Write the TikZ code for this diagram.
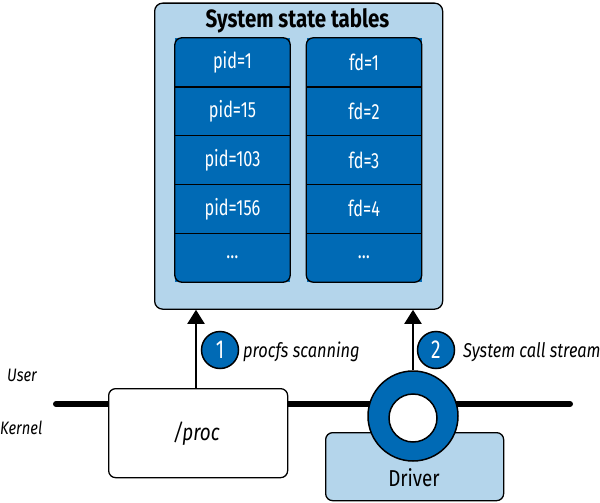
\documentclass[tikz,border=0pt]{standalone}
\usepackage{fontspec}
\setmainfont{Fira Sans}[FakeStretch=0.82]
\newfontfamily\cellfont{Fira Sans}[FakeStretch=0.74]
\usetikzlibrary{arrows.meta}
\definecolor{dblue}{RGB}{0,106,181}
\definecolor{lblue}{RGB}{180,213,235}
\tikzset{
  outerbox/.style={draw=black, line width=1.3pt, fill=lblue, rounded corners=8pt},
  cell/.style={fill=dblue, minimum width=115pt, minimum height=48.8pt, inner sep=0pt, text=white, font=\cellfont\fontsize{22}{24}\selectfont},
  colframe/.style={draw=black, line width=1.3pt, rounded corners=7pt},
  sep/.style={draw=black, line width=1.3pt},
  arr/.style={draw=black, line width=2pt, -{Triangle[width=17pt,length=14pt]}},
  badge/.style={circle, draw=black, line width=1.5pt, fill=dblue, minimum size=37pt, inner sep=0pt, text=white, font=\cellfont\fontsize{26}{27}\selectfont},
  lbl/.style={font=\fontsize{20}{22}\selectfont\itshape, anchor=west, inner sep=0pt},
  side/.style={font=\fontsize{18}{20}\selectfont\itshape, anchor=west, inner sep=0pt},
  kbox/.style={draw=black, line width=1.3pt, rounded corners=7pt, inner sep=0pt},
}
\begin{document}
\begin{tikzpicture}[x=1pt,y=-1pt]
\useasboundingbox (0,0) rectangle (600,503);
% outer box
\node[outerbox, minimum width=288pt, minimum height=306pt, anchor=north west] (tables) at (154,2.5) {};
\node[font=\fontsize{25}{27}\selectfont\bfseries] (title) at (297.5,21) {System state tables};
% columns
\foreach \t [count=\i] in {pid=1,pid=15,pid=103,pid=156,\dots}{
  \node[cell] (p\i) at (232.5,{38+48.8*(\i-0.5)}) {\t};
}
\foreach \t [count=\i] in {fd=1,fd=2,fd=3,fd=4,\dots}{
  \node[cell] (f\i) at (364,{38+48.8*(\i-0.5)}) {\t};
}
\foreach \i in {1,2,3,4}{
  \draw[sep] (p\i.south west) -- (p\i.south east);
  \draw[sep] (f\i.south west) -- (f\i.south east);
}
\draw[colframe] (p1.north west) rectangle (p5.south east);
\draw[colframe] (f1.north west) rectangle (f5.south east);
% kernel line
\coordinate (kl) at (56,404);
\coordinate (kr) at (570,404);
\draw[line width=6pt, line cap=round] (kl) -- (kr);
% proc box
\node[kbox, fill=white, minimum width=179pt, minimum height=89pt, anchor=north west] (proc) at (108,388) {};
\node[font=\fontsize{23}{25}\selectfont\itshape] (proclbl) at (196.5,434) {/proc};
% driver box
\node[kbox, fill=lblue, minimum width=178pt, minimum height=68pt, anchor=north west] (driver) at (325,432) {};
\node[font=\fontsize{23}{25}\selectfont] (drvlbl) at (414,478) {Driver};
% ring
\node[circle, draw=black, line width=1.5pt, fill=dblue, minimum size=90pt, inner sep=0pt] (ring) at (413,416) {};
\node[circle, draw=black, line width=1.5pt, fill=white, minimum size=48pt, inner sep=0pt] (hole) at (413,418) {};
% arrows
\coordinate (a1) at (196,0);
\draw[arr] (proc.north -| a1) -- (tables.south -| a1);
\draw[arr] (ring.north) -- (tables.south -| ring.north);
% badges
\node[badge] (b1) at (220,350) {1};
\node[lbl] (l1) at (243,352) {procfs scanning};
\node[badge] (b2) at (436,350) {2};
\node[lbl] (l2) at (463,352) {System call stream};
% side labels
\node[side] (user) at (7,375) {User};
\node[side] (kernel) at (0,428) {Kernel};
\end{tikzpicture}
\end{document}
